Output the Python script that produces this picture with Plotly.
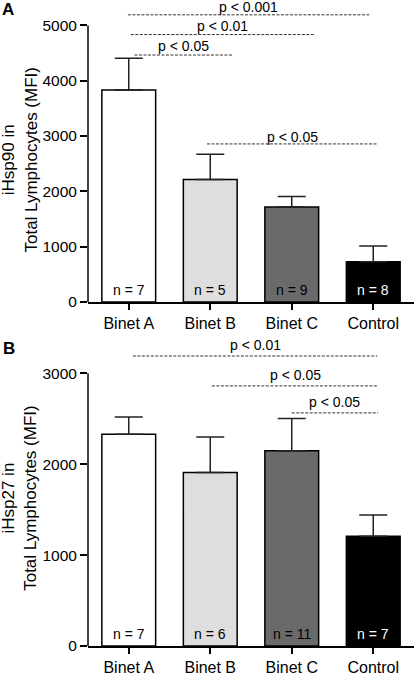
import plotly.graph_objects as go

categories = ["Binet A", "Binet B", "Binet C", "Control"]
bar_colors = ["#ffffff", "#dedede", "#6a6a6a", "#000000"]

# Panel A: iHsp90
hsp90_mean = [3830, 2215, 1715, 727]
hsp90_sem = [575, 455, 190, 285]
hsp90_n = [7, 5, 9, 8]
# comparisons: (start, end, level, label)
hsp90_sig = [(-0.01, 2.95, 5191, "p < 0.001"),
             (0.025, 2.27, 4834, "p < 0.01"),
             (0.07, 1.27, 4464, "p < 0.05"),
             (0.96, 3.05, 2857, "p < 0.05")]
hsp90_ticks = [0, 1000, 2000, 3000, 4000, 5000]

# Panel B: iHsp27
hsp27_mean = [2330, 1909, 2148, 1207]
hsp27_sem = [190, 391, 355, 234]
hsp27_n = [7, 6, 11, 7]
hsp27_sig = [(0.05, 3.05, 3191, "p < 0.01"),
             (1.02, 3.06, 2862, "p < 0.05"),
             (2.0, 3.06, 2565, "p < 0.05")]
hsp27_ticks = [0, 1000, 2000, 3000]

FONT = "Liberation Sans, Arial, sans-serif"
W, H = 414, 676
ML, MR, MT, MB = 88, 0, 0, 22
plot_h = H - MT - MB
plot_w = W - ML - MR


def px_x(px):
    return (px - ML) / plot_w


def px_y(py):
    return (H - MB - py) / plot_h


# panel A: zero at 305.7 px, 56 px per 1000; panel B: zero at 654 px, 92 px per 1000
a_dom = [px_y(305.7), 1.0]
a_top = (305.7 - MT) / 0.056
b_top_px = 341.5
b_dom = [0.0, px_y(b_top_px)]
b_top = (H - MB - b_top_px) / 0.092

fig = go.Figure()
shapes = []
annotations = []

panels = [
    dict(mean=hsp90_mean, sem=hsp90_sem, n=hsp90_n, sig=hsp90_sig, ticks=hsp90_ticks,
         xa="x", ya="y", yrange=[0, a_top], domain=a_dom,
         title="iHsp90 in<br>Total Lymphocytes (MFI)", title_y=162.5,
         letter="A", letter_xy=(8, 9.2), text_shift=[-1, 0, 0, -2]),
    dict(mean=hsp27_mean, sem=hsp27_sem, n=hsp27_n, sig=hsp27_sig, ticks=hsp27_ticks,
         xa="x2", ya="y2", yrange=[0, b_top], domain=b_dom,
         title="iHsp27 in<br>Total Lymphocytes (MFI)", title_y=505,
         letter="B", letter_xy=(8.7, 352.5), text_shift=[2, 2, 2]),
]

for p in panels:
    fig.add_trace(go.Bar(
        x=categories, y=p["mean"], xaxis=p["xa"], yaxis=p["ya"],
        width=0.66,
        marker=dict(color=bar_colors, line=dict(color="#000000", width=1.5)),
        error_y=dict(type="data", array=p["sem"], arrayminus=[0] * 4, symmetric=False,
                     color="#222222", thickness=1.5, width=14),
        showlegend=False, hoverinfo="skip"))
    # y axis line (from 0 to top tick only)
    shapes.append(dict(type="line", xref=p["xa"] + " domain", yref=p["ya"],
                       x0=0, x1=0, y0=0, y1=p["ticks"][-1],
                       line=dict(color="#000000", width=1.5)))
    # significance lines
    for (x0, x1, lvl, lab), sh in zip(p["sig"], p["text_shift"]):
        shapes.append(dict(type="line", xref=p["xa"], yref=p["ya"],
                           x0=x0, x1=x1, y0=lvl, y1=lvl,
                           line=dict(color="#333333", width=1, dash="3px,1.5px")))
        annotations.append(dict(xref=p["xa"], yref=p["ya"], x=(x0 + x1) / 2, y=lvl,
                                text=lab, showarrow=False, yanchor="bottom", borderpad=0,
                                yshift=sh, font=dict(family=FONT, size=14, color="#000000")))
    # n labels
    for i, (c, nv) in enumerate(zip(categories, p["n"])):
        annotations.append(dict(xref=p["xa"], yref=p["ya"], x=c, y=0,
                                text=f"n = {nv}", showarrow=False, yanchor="bottom", yshift=2,
                                font=dict(family=FONT, size=14,
                                          color="#ffffff" if i == 3 else "#000000")))
    # y title
    annotations.append(dict(xref="paper", yref="paper",
                            x=px_x(20), y=px_y(p["title_y"]),
                            text=p["title"], textangle=-90, showarrow=False, borderpad=0,
                            xanchor="center", yanchor="middle",
                            font=dict(family=FONT, size=17, color="#000000")))
    # panel letter
    lx, ly = p["letter_xy"]
    annotations.append(dict(xref="paper", yref="paper",
                            x=px_x(lx), y=px_y(ly),
                            text="<b>" + p["letter"] + "</b>", showarrow=False,
                            xanchor="center", yanchor="middle",
                            font=dict(family=FONT, size=17, color="#000000")))

axis_common_x = dict(showline=True, linecolor="#000000", linewidth=1.5,
                     ticks="outside", ticklen=6, tickwidth=1.5, tickcolor="#000000",
                     tickfont=dict(family=FONT, size=16, color="#000000"),
                     showgrid=False, zeroline=False, range=[-0.5, 3.5],
                     categoryorder="array", categoryarray=categories)
axis_common_y = dict(showline=False, ticks="outside", ticklen=7, tickwidth=1.5,
                     tickcolor="#000000", tickfont=dict(family=FONT, size=15.5, color="#000000"),
                     showgrid=False, zeroline=False, tickmode="array")

fig.update_layout(
    width=W, height=H,
    margin=dict(l=ML, r=MR, t=MT, b=MB),
    paper_bgcolor="#ffffff", plot_bgcolor="#ffffff",
    font=dict(family=FONT, color="#000000"),
    xaxis=dict(anchor="y", domain=[0, 1], **axis_common_x),
    yaxis=dict(anchor="x", domain=a_dom, range=[0, a_top],
               tickvals=hsp90_ticks, **axis_common_y),
    xaxis2=dict(anchor="y2", domain=[0, 1], **axis_common_x),
    yaxis2=dict(anchor="x2", domain=b_dom, range=[0, b_top],
                tickvals=hsp27_ticks, **axis_common_y),
    shapes=shapes, annotations=annotations, bargap=0.34,
)

# remove the default page margin so the figure sits at the window's top-left corner
fig.write_html("out.html", config={"displayModeBar": False},
               post_script="document.body.style.margin='0';document.body.style.overflow='hidden';")
